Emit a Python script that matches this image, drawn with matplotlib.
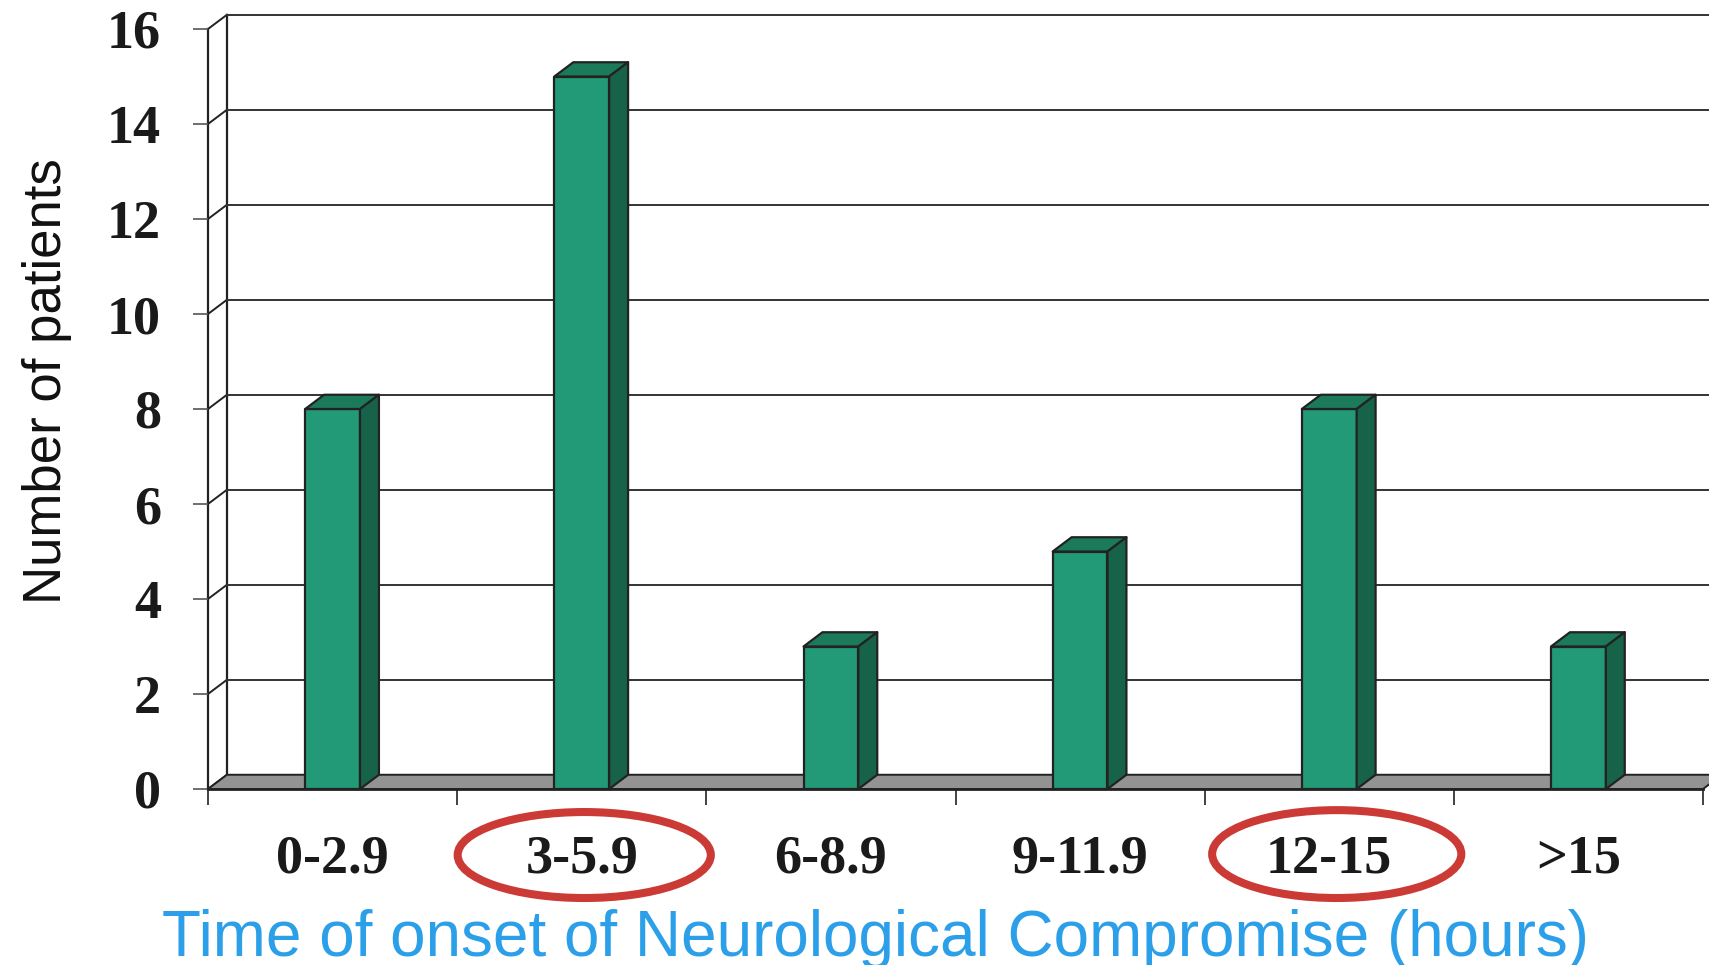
import matplotlib
matplotlib.use("Agg")
import matplotlib.pyplot as plt
from matplotlib.patches import Polygon, Ellipse

# --- data ---
categories = ["0-2.9", "3-5.9", "6-8.9", "9-11.9", "12-15", ">15"]
patients = [8, 15, 3, 5, 8, 3]
y_ticks = [0, 2, 4, 6, 8, 10, 12, 14, 16]
circled = ["3-5.9", "12-15"]

# --- style ---
FRONT = "#229a77"
TOP = "#1b7a5a"
SIDE = "#17634a"
EDGE = "#222222"
FLOOR = "#939393"
RING = "#cc3a36"
TITLE_BLUE = "#2c9fe9"
DX, DY = 0.076, 0.3       # depth offset of the 3D box (x in categories, y in patients)
BAR_W = 0.22

fig = plt.figure(figsize=(17.09, 9.65), dpi=100)
ax = fig.add_axes([208 / 1709, 176 / 965, 1495 / 1709, 760 / 965])
n = len(categories)
x0, x1 = -0.5, n - 0.5
ax.set_xlim(x0, x1)
ax.set_ylim(0, 16)
for s in ax.spines.values():
    s.set_visible(False)
ax.patch.set_visible(False)

# back wall, gridlines and their diagonal connectors
ax.plot([x0, x0], [0, 16], color=EDGE, lw=1.6, clip_on=False, zorder=1)
ax.plot([x0 + DX, x0 + DX], [DY, 16 + DY], color=EDGE, lw=1.6, clip_on=False, zorder=1)
for v in y_ticks:
    ax.plot([x0, x0 + DX], [v, v + DY], color=EDGE, lw=1.4, clip_on=False, zorder=1)
    if v > 0:
        ax.plot([x0 + DX, x1 + DX], [v + DY, v + DY], color="#333333", lw=1.4,
                clip_on=False, zorder=1)

# floor
floor = Polygon([(x0, 0), (x1, 0), (x1 + DX, DY), (x0 + DX, DY)], closed=True,
                facecolor=FLOOR, edgecolor=EDGE, lw=1.4, clip_on=False, zorder=2)
ax.add_patch(floor)
ax.plot([x0, x1], [0, 0], color=EDGE, lw=2, clip_on=False, zorder=2)

# 3D bars
for i, v in enumerate(patients):
    l, r = i - BAR_W / 2, i + BAR_W / 2
    faces = [
        ([(l, 0), (r, 0), (r, v), (l, v)], FRONT),
        ([(l, v), (r, v), (r + DX, v + DY), (l + DX, v + DY)], TOP),
        ([(r, 0), (r + DX, DY), (r + DX, v + DY), (r, v)], SIDE),
    ]
    for pts, c in faces:
        ax.add_patch(Polygon(pts, closed=True, facecolor=c, edgecolor=EDGE,
                             lw=1.6, joinstyle="round", clip_on=False, zorder=3 + i))

# ticks and labels
ax.set_yticks(y_ticks)
ax.set_yticklabels([str(t) for t in y_ticks], fontsize=39, fontweight="bold",
                   family="Liberation Serif", color="#1a1a1a")
ax.tick_params(axis="y", length=10.8, width=1.2, color="#555555", pad=23)
ax.set_xticks([i - 0.5 for i in range(n + 1)])
ax.set_xticklabels([])
ax.set_xticks(range(n), minor=True)
ax.set_xticklabels(categories, minor=True, fontsize=39, fontweight="bold",
                   family="Liberation Serif", color="#1a1a1a")
ax.tick_params(axis="x", which="major", length=11.5, width=1.2, color=EDGE)
ax.tick_params(axis="x", which="minor", length=0, pad=33)

# highlight rings round the two labelled groups
ring_shape = {"3-5.9": (0.01, -1.39, 1.016, 1.81), "12-15": (0.03, -1.37, 1.0, 1.85)}
for lab in circled:
    i = categories.index(lab)
    off, cy, w, h = ring_shape[lab]
    ax.add_patch(Ellipse((i + off, cy), w, h, facecolor="none", edgecolor=RING,
                         lw=5.8, clip_on=False, zorder=10))

fig.text(47 / 1709, 1 - 381 / 965, "Number of patients", rotation=90,
         ha="center", va="center", fontsize=38, family="Liberation Sans", color="#111111")
fig.text(876 / 1709, 1 - 956 / 965, "Time of onset of Neurological Compromise (hours)",
         ha="center", va="baseline", fontsize=46, family="Liberation Sans", color=TITLE_BLUE)

fig.savefig("out.png", dpi=100)
